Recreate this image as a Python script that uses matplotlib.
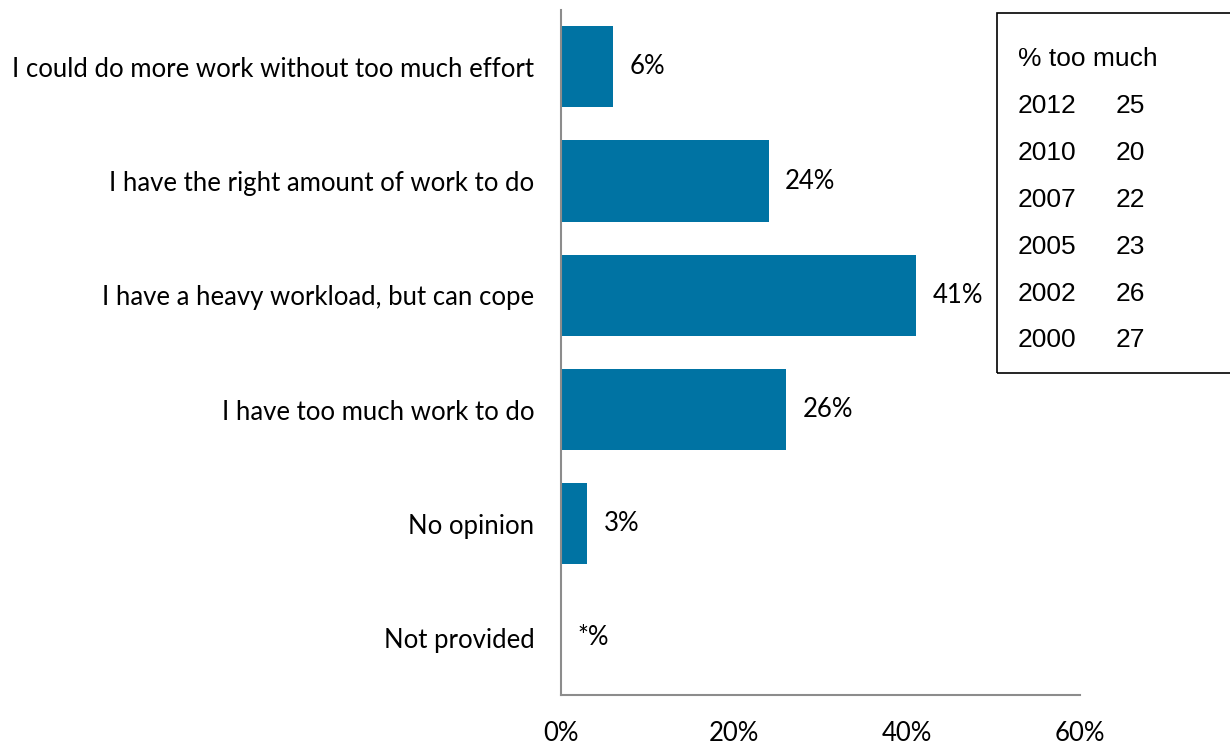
import matplotlib
matplotlib.use("Agg")
import matplotlib.pyplot as plt
from matplotlib.patches import Rectangle

# Data
categories = [
    "I could do more work without too much effort",
    "I have the right amount of work to do",
    "I have a heavy workload, but can cope",
    "I have too much work to do",
    "No opinion",
    "Not provided",
]
values = [6, 24, 41, 26, 3, 0]
value_labels = ["6%", "24%", "41%", "26%", "3%", "*%"]

box_title = "% too much"
years = ["2012", "2010", "2007", "2005", "2002", "2000"]
too_much = [25, 20, 22, 23, 26, 27]

bar_color = "#0073A3"
axis_color = "#8C8C8C"
fs = 18.5

fig = plt.figure(figsize=(12.3, 7.45), dpi=100)
ax = fig.add_axes([0.456, 0.067, 0.422, 0.92])

ypos = list(range(len(categories)))
ax.barh(ypos, values, height=0.71, color=bar_color)
for y, v, lab in zip(ypos, values, value_labels):
    ax.annotate(lab, (v, y), xytext=(12, 0), textcoords="offset points",
                va="center", ha="left", fontsize=fs, family="Lato")

ax.set_ylim(len(categories) - 0.5, -0.5)
ax.set_xlim(0, 60)
ax.set_xticks([0, 20, 40, 60])
ax.set_xticklabels(["0%", "20%", "40%", "60%"], family="Lato", fontsize=fs)
ax.set_yticks(ypos)
ax.set_yticklabels(categories, family="Lato", fontsize=fs)
ax.tick_params(axis="both", length=0)
ax.tick_params(axis="x", pad=19)
ax.tick_params(axis="y", pad=19)

for side in ["top", "right"]:
    ax.spines[side].set_visible(False)
for side in ["left", "bottom"]:
    ax.spines[side].set_color(axis_color)
    ax.spines[side].set_linewidth(1.5)

# Box with history
fig.patches.append(Rectangle((0.8106, 0.4993), 0.25, 0.4833, transform=fig.transFigure,
                             fill=False, edgecolor="black", linewidth=1.2, clip_on=False))
row_y = [59, 106, 153, 200, 247, 294, 340]
fig.text(0.8276, 1 - row_y[0] / 745, box_title, va="center", ha="left",
         family="Liberation Sans", fontsize=19)
for yr, val, ry in zip(years, too_much, row_y[1:]):
    fig.text(0.8276, 1 - ry / 745, yr, va="center", ha="left",
             family="Liberation Sans", fontsize=19)
    fig.text(0.9073, 1 - ry / 745, str(val), va="center", ha="left",
             family="Liberation Sans", fontsize=19)

fig.savefig("out.png", dpi=100)
